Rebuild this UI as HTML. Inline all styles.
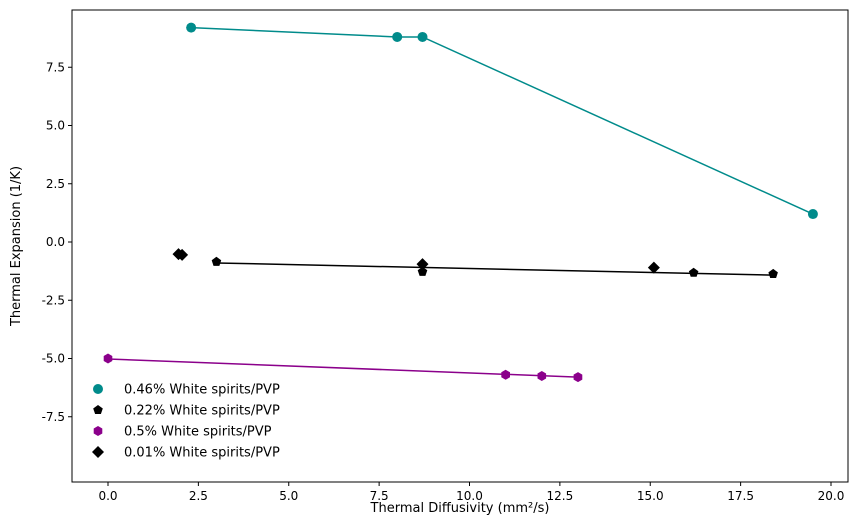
<!DOCTYPE html>
<html><head><meta charset="utf-8"><style>
body{margin:0;background:#fff;}
svg{display:block;font-family:"DejaVu Sans","Liberation Sans",sans-serif;}
</style></head><body>
<svg id="c" width="857" height="525"></svg>
<script>
const tealX=[2.3,8.0,8.7,19.5];
const tealY=[9.2,8.8,8.8,1.2];
const pentX=[3.0,8.7,16.2,18.4];
const pentY=[-0.85,-1.28,-1.32,-1.37];
const pentLineY=[-0.9,-1.42];
const purpX=[0,11,12,13];
const purpY=[-5.0,-5.7,-5.75,-5.8];
const purpLineY=[-5.02,-5.8];
const diaX=[1.95,2.05,8.7,15.1];
const diaY=[-0.52,-0.55,-0.95,-1.1];
const xTicks=[0,2.5,5,7.5,10,12.5,15,17.5,20];
const yTicks=[-7.5,-5,-2.5,0,2.5,5,7.5];
const legendLabels=["0.46% White spirits/PVP","0.22% White spirits/PVP","0.5% White spirits/PVP","0.01% White spirits/PVP"];

const L=72,R=848,T=10,B=482;
const xs=v=>108+v*36.15;
const ys=v=>242-v*23.3;
const NS="http://www.w3.org/2000/svg";
const svg=document.getElementById('c');
function el(t,a,p){const e=document.createElementNS(NS,t);for(const k in a)e.setAttribute(k,a[k]);(p||svg).appendChild(e);return e;}

function pent(cx,cy,r){let p=[];for(let i=0;i<5;i++){const a=-Math.PI/2+i*2*Math.PI/5;p.push((cx+r*Math.cos(a)).toFixed(1)+","+(cy+r*Math.sin(a)).toFixed(1));}return p.join(" ");}
function hex(cx,cy,r){let p=[];for(let i=0;i<6;i++){const a=-Math.PI/2+i*Math.PI/3;p.push((cx+r*Math.cos(a)).toFixed(1)+","+(cy+r*Math.sin(a)).toFixed(1));}return p.join(" ");}
function dia(cx,cy,r){return `${cx},${cy-r} ${cx+r},${cy} ${cx},${cy+r} ${cx-r},${cy}`;}

const frame=el('rect',{x:L,y:T,width:R-L,height:B-T,fill:'none',stroke:'#000','stroke-width':1});


xTicks.forEach(v=>{
  const x=xs(v);
  const t=el('line',{x1:x,x2:x,y1:B,y2:B+4,stroke:'#000'});
  
  
  const l=el('text',{x:x,y:B+18,'text-anchor':'middle','font-size':12});
  l.textContent=v.toFixed(1);
  
  
});
yTicks.forEach(v=>{
  const y=ys(v);
  const t=el('line',{x1:L-4,x2:L,y1:y,y2:y,stroke:'#000'});
  
  
  const l=el('text',{x:L-7,y:y+4,'text-anchor':'end','font-size':12});
  l.textContent=v.toFixed(1);
  
  
});
const xt=el('text',{x:(L+R)/2,y:512,'text-anchor':'middle','font-size':13});
xt.textContent="Thermal Diffusivity (mm²/s)";


const yt=el('text',{x:20,y:246,'text-anchor':'middle','font-size':13,transform:'rotate(-90 20 246)'});
yt.textContent="Thermal Expansion (1/K)";



const tl=el('polyline',{points:tealX.map((x,i)=>xs(x)+","+ys(tealY[i])).join(" "),fill:'none',stroke:'#008b8b','stroke-width':1.5});


const pl=el('line',{x1:xs(pentX[0]),y1:ys(pentLineY[0]),x2:xs(pentX[pentX.length-1]),y2:ys(pentLineY[1]),stroke:'#000','stroke-width':1.5});


const ul=el('line',{x1:xs(purpX[0]),y1:ys(purpLineY[0]),x2:xs(purpX[purpX.length-1]),y2:ys(purpLineY[1]),stroke:'#8b008b','stroke-width':1.5});



tealX.forEach((x,i)=>{const m=el('circle',{cx:xs(x),cy:ys(tealY[i]),r:5,fill:'#008b8b'});

});
pentX.forEach((x,i)=>{const m=el('polygon',{points:pent(xs(x),ys(pentY[i]),5),fill:'#000'});

});
purpX.forEach((x,i)=>{const m=el('polygon',{points:hex(xs(x),ys(purpY[i]),5),fill:'#8b008b'});

});
diaX.forEach((x,i)=>{const m=el('polygon',{points:dia(xs(x),ys(diaY[i]),6),fill:'#000'});

});

const mk=[(x,y)=>el('circle',{cx:x,cy:y,r:5,fill:'#008b8b'}),
(x,y)=>el('polygon',{points:pent(x,y,5),fill:'#000'}),
(x,y)=>el('polygon',{points:hex(x,y,5),fill:'#8b008b'}),
(x,y)=>el('polygon',{points:dia(x,y,6),fill:'#000'})];
legendLabels.forEach((s,i)=>{
  const y=389+i*21;
  const m=mk[i](98,y);
  
  
  const t=el('text',{x:124,y:y+4.5,'font-size':13});
  t.textContent=s;
  
  
});
</script>
</body></html>
